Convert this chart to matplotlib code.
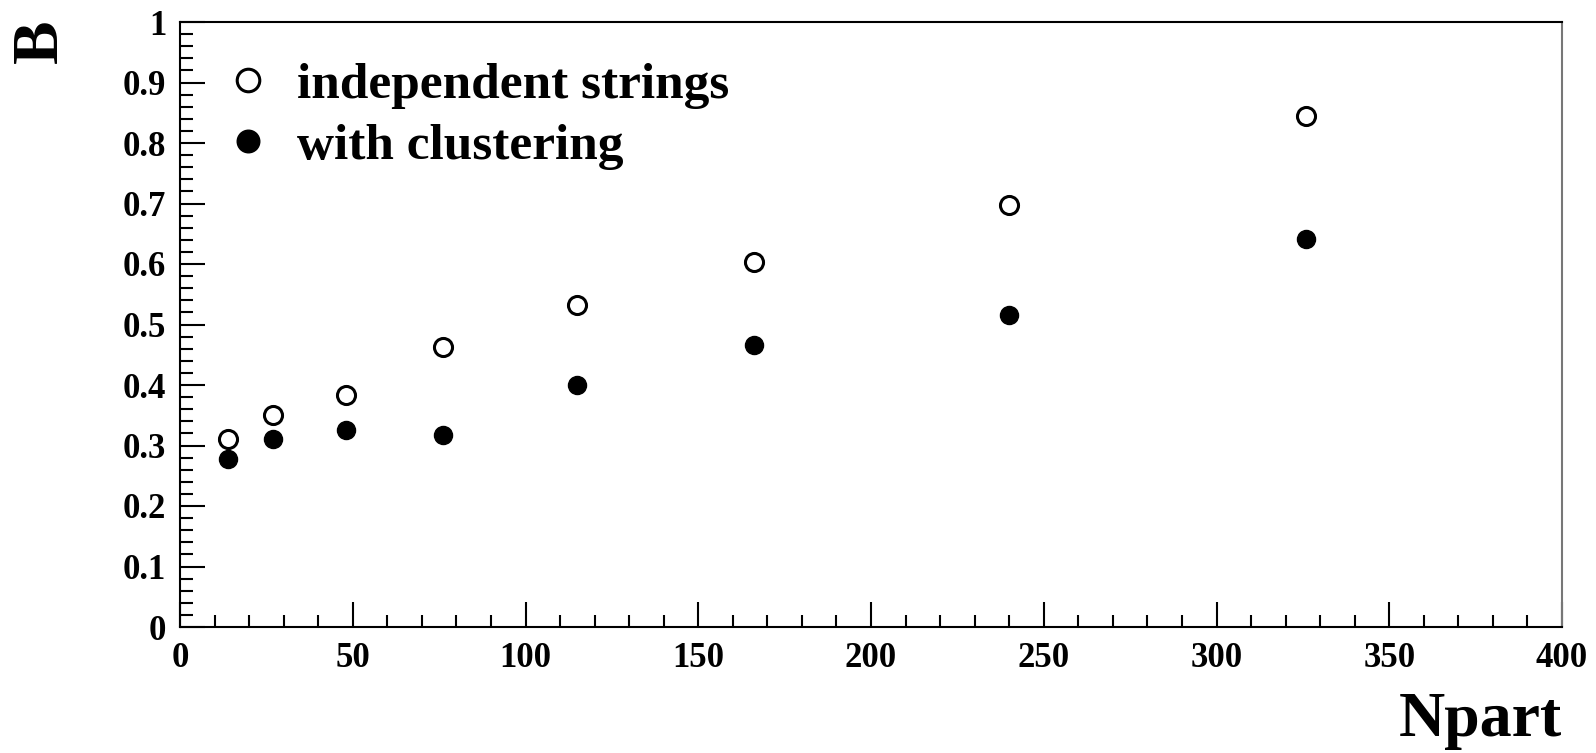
import matplotlib
matplotlib.use("Agg")
import matplotlib.pyplot as plt
from matplotlib.ticker import MultipleLocator

npart = [14, 27, 48, 76, 115, 166, 240, 326]
b_independent = [0.311, 0.350, 0.384, 0.463, 0.532, 0.604, 0.697, 0.845]
b_clustering = [0.278, 0.311, 0.325, 0.318, 0.400, 0.466, 0.516, 0.641]

plt.rcParams['font.family'] = ['Liberation Serif', 'DejaVu Serif']
plt.rcParams['font.weight'] = 'bold'

W, H = 1596, 753
fig = plt.figure(figsize=(W / 100, H / 100), dpi=100)
ax = fig.add_axes([180 / W, 1 - 627 / H, (1562 - 180) / W, (627 - 22) / H])

ax.plot(npart, b_independent, 'o', mfc='white', mec='black', mew=2.2, ms=13,
        linestyle='none', label='independent strings')
ax.plot(npart, b_clustering, 'o', mfc='black', mec='black', ms=13,
        linestyle='none', label='with clustering')

ax.set_xlim(0, 400)
ax.set_ylim(0, 1)
ax.xaxis.set_major_locator(MultipleLocator(50))
ax.xaxis.set_minor_locator(MultipleLocator(10))
ax.yaxis.set_major_locator(MultipleLocator(0.1))
ax.yaxis.set_minor_locator(MultipleLocator(0.02))
ax.xaxis.set_major_formatter(plt.FuncFormatter(lambda v, p: f"{v:g}"))
ax.yaxis.set_major_formatter(plt.FuncFormatter(lambda v, p: f"{v:g}"))

ax.tick_params(which='both', direction='in', top=False, right=False, width=1.5, labelsize=25)
ax.tick_params(which='major', length=18)
ax.tick_params(which='minor', length=9)
ax.tick_params(axis='x', pad=11)
ax.tick_params(axis='y', pad=10)
for lab in ax.get_xticklabels() + ax.get_yticklabels():
    lab.set_fontweight('bold')

for s in ['left', 'bottom', 'top']:
    ax.spines[s].set_linewidth(1.5)
ax.spines['right'].set_color('#777777')
ax.spines['right'].set_linewidth(1.5)

fig.text(1562 / W, 1 - 721 / H, 'Npart', ha='right', va='center', fontsize=46, fontweight='bold')
fig.text(41 / W, 1 - 41 / H, 'B', ha='center', va='center', rotation=90, fontsize=47, fontweight='bold')

leg = ax.legend(loc='upper left', bbox_to_anchor=(0.016, 0.968), frameon=False,
                prop={'size': 37, 'weight': 'bold'}, handletextpad=0.45, labelspacing=0.28,
                handlelength=1.0, borderaxespad=0, markerscale=1.25)

fig.savefig('out.png', dpi=100)
